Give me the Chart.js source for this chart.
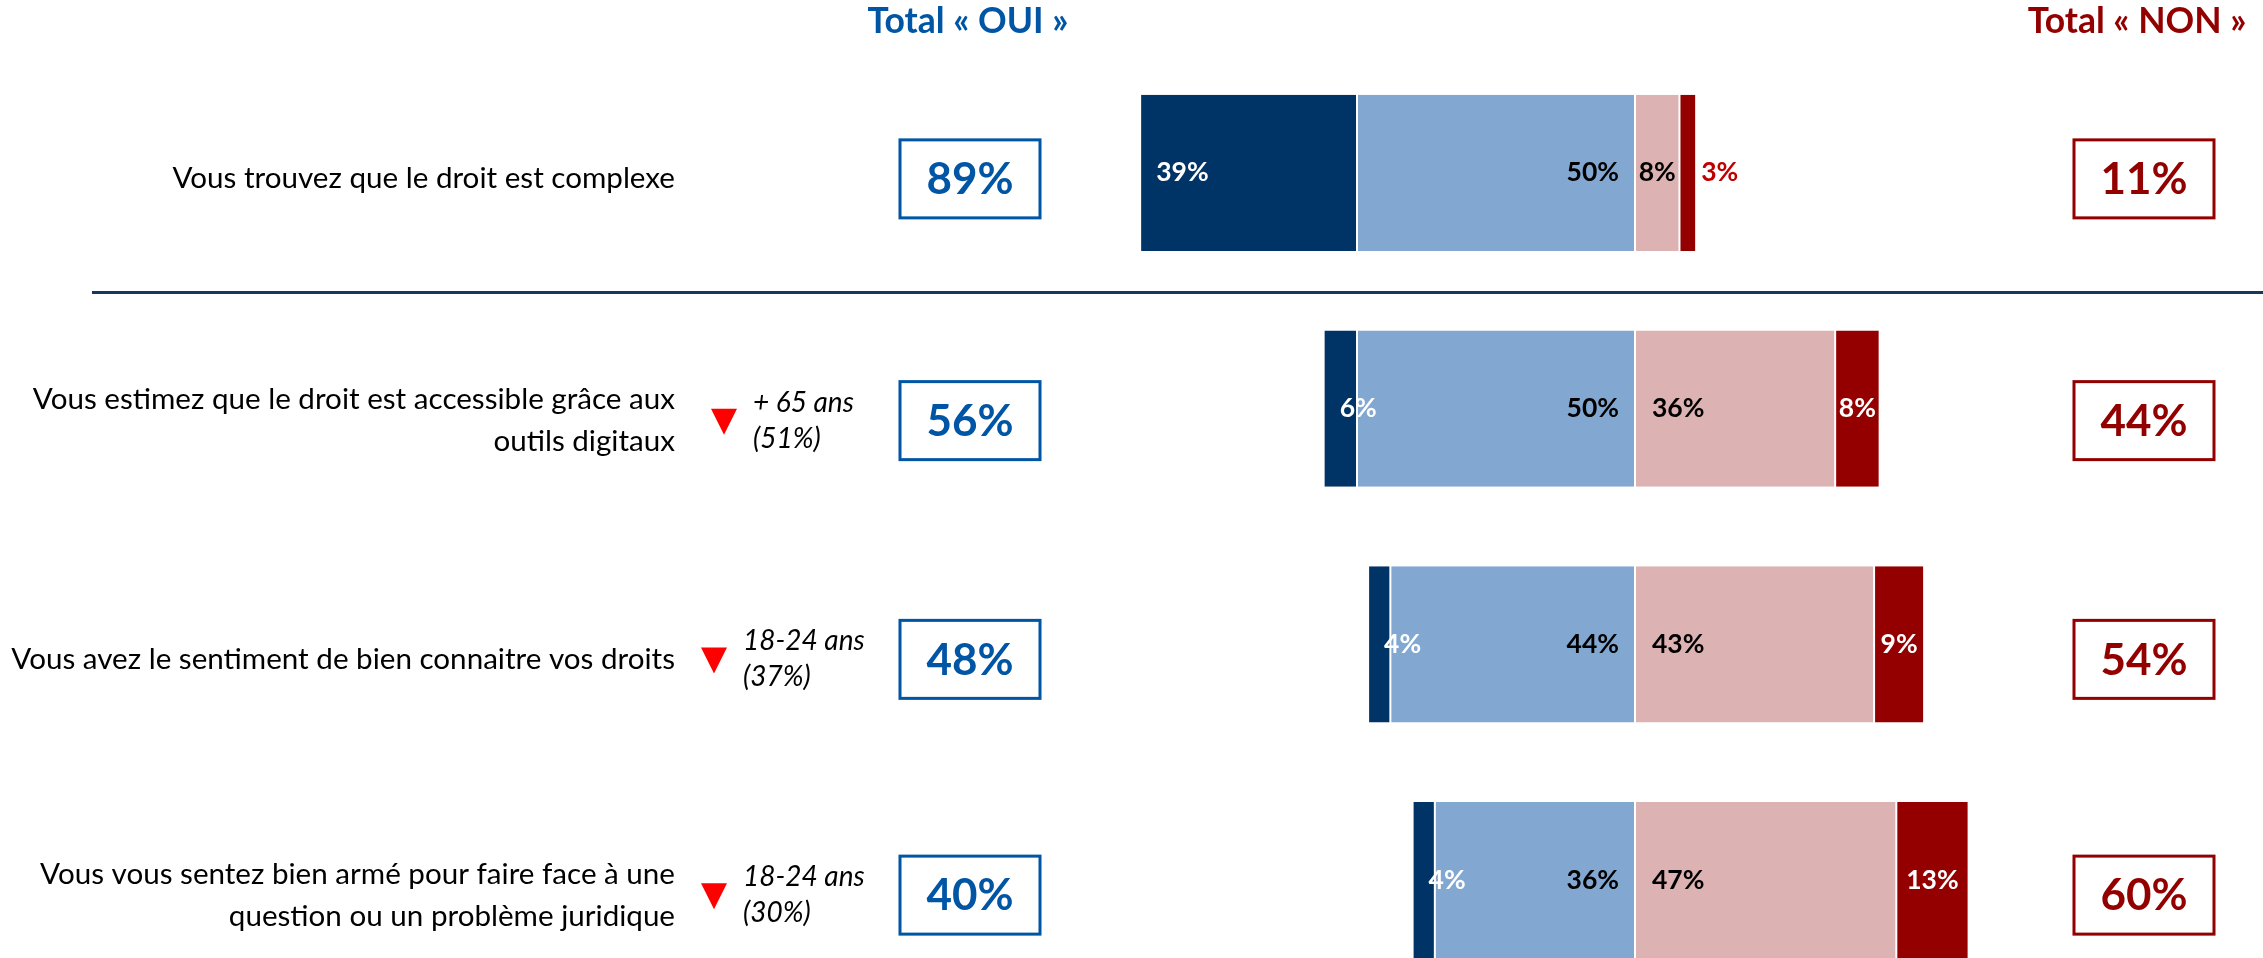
<!DOCTYPE html>
<html>
<head>
<meta charset="utf-8">
<script src="https://cdn.jsdelivr.net/npm/chart.js@4"></script>
<style>
  html, body { margin: 0; padding: 0; background: #fff; overflow: hidden; }
  #wrap { position: relative; width: 2263px; height: 1000px; }
</style>
</head>
<body>
<div id="wrap"><canvas id="chart"></canvas></div>
<script>
// questions (one entry per row, split into display lines)
const questions = [
  ['Vous trouvez que le droit est complexe'],
  ['Vous estimez que le droit est accessible grâce aux', 'outils digitaux'],
  ['Vous avez le sentiment de bien connaitre vos droits'],
  ['Vous vous sentez bien armé pour faire face à une', 'question ou un problème juridique']
];
// answer shares, %
const ouiToutAFait = [39, 6, 4, 4];
const ouiPlutot = [50, 50, 44, 36];
const nonPlutotPas = [8, 36, 43, 47];
const nonPasDuTout = [3, 8, 9, 13];
// totals shown in the boxes
const totalOui = [89, 56, 48, 40];
const totalNon = [11, 44, 54, 60];
// sub-group callouts (lower score)
const subGroup = [null, '+ 65 ans', '18-24 ans', '18-24 ans'];
const subGroupScore = [null, 51, 37, 30];

const FONT = 'Lato, "Open Sans", sans-serif';
const BLUE = '#0055A5';
const RED = '#930000';
// small layout nudges per row (px)
const rowOffset = [6, 12, 15, 15];
const calloutShift = [0, 10, 0, 0];

const barLabels = {
  id: 'barLabels',
  afterDatasetsDraw(chart) {
    const ctx = chart.ctx;
    ctx.save();
    ctx.font = `bold 26.5px ${FONT}`;
    ctx.textBaseline = 'middle';
    chart.data.datasets.forEach((ds, di) => {
      const meta = chart.getDatasetMeta(di);
      meta.data.forEach((bar, i) => {
        const txt = Math.abs(ds.data[i]) + '%';
        const left = Math.min(bar.x, bar.base);
        const right = Math.max(bar.x, bar.base);
        const w = ctx.measureText(txt).width;
        let x, align, color;
        if (ds.key === 'ouiTout') {
          x = left + 16; align = 'left'; color = '#fff';
        } else if (ds.key === 'ouiPlutot') {
          x = right - 16; align = 'right'; color = '#000';
        } else if (ds.key === 'nonPlutot') {
          if (right - left > w + 34) { x = left + 17; align = 'left'; }
          else { x = (left + right) / 2; align = 'center'; }
          color = '#000';
        } else {
          if (right - left > w + 6) { x = (left + right) / 2; align = 'center'; color = '#fff'; }
          else { x = right + 5; align = 'left'; color = '#C00000'; }
        }
        ctx.textAlign = align;
        ctx.fillStyle = color;
        ctx.fillText(txt, x, bar.y);
      });
    });
    ctx.restore();
  }
};

const sidePanel = {
  id: 'sidePanel',
  afterDraw(chart) {
    const ctx = chart.ctx;
    const yScale = chart.scales.y;
    ctx.save();
    ctx.textBaseline = 'middle';

    // column headers
    ctx.font = `bold 35.5px ${FONT}`;
    ctx.textAlign = 'center';
    ctx.fillStyle = BLUE;
    ctx.fillText('Total « OUI »', 968, 22);
    ctx.fillStyle = RED;
    ctx.fillText('Total « NON »', 2137, 22);

    // separator under the first question
    ctx.strokeStyle = '#17375E';
    ctx.lineWidth = 3;
    ctx.beginPath();
    ctx.moveTo(92, 292.5);
    ctx.lineTo(2263, 292.5);
    ctx.stroke();

    questions.forEach((lines, i) => {
      const yc = yScale.getPixelForValue(i) + rowOffset[i];

      // question text
      ctx.font = `29.6px ${FONT}`;
      ctx.fillStyle = '#000';
      ctx.textAlign = 'right';
      const gap = 42;
      lines.forEach((ln, k) => {
        ctx.fillText(ln, 675, yc + (k - (lines.length - 1) / 2) * gap);
      });

      // sub-group callout
      if (subGroup[i]) {
        const sx = calloutShift[i];
        ctx.fillStyle = '#FF0000';
        ctx.beginPath();
        ctx.moveTo(701 + sx, yc - 12);
        ctx.lineTo(727 + sx, yc - 12);
        ctx.lineTo(714 + sx, yc + 14);
        ctx.closePath();
        ctx.fill();
        ctx.font = `italic 28px ${FONT}`;
        ctx.fillStyle = '#000';
        ctx.textAlign = 'left';
        ctx.fillText(subGroup[i], 743 + sx, yc - 18);
        ctx.fillText('(' + subGroupScore[i] + '%)', 743 + sx, yc + 18);
      }

      // total boxes
      ctx.lineWidth = 3;
      ctx.font = `bold 44px ${FONT}`;
      ctx.textAlign = 'center';
      [[totalOui[i], 900, BLUE], [totalNon[i], 2074, RED]].forEach(([v, bx, col]) => {
        ctx.strokeStyle = col;
        ctx.strokeRect(bx, yc - 39, 140, 78);
        ctx.fillStyle = col;
        ctx.fillText(v + '%', bx + 70, yc + 1);
      });
    });
    ctx.restore();
  }
};

const neg = a => a.map(v => -v);

new Chart(document.getElementById('chart'), {
  type: 'bar',
  data: {
    labels: questions.map(q => q.join(' ')),
    datasets: [
      { key: 'ouiPlutot', label: 'Oui, plutôt', data: neg(ouiPlutot), backgroundColor: '#82A8D2' },
      { key: 'ouiTout', label: 'Oui, tout à fait', data: neg(ouiToutAFait), backgroundColor: '#003366' },
      { key: 'nonPlutot', label: 'Non, plutôt pas', data: nonPlutotPas, backgroundColor: '#DDB2B3' },
      { key: 'nonPas', label: 'Non, pas du tout', data: nonPasDuTout, backgroundColor: '#940000' }
    ]
  },
  options: {
    indexAxis: 'y',
    responsive: true,
    maintainAspectRatio: false,
    animation: false,
    layout: { padding: { left: 1079, right: 72, top: 55, bottom: 2 } },
    datasets: {
      bar: {
        barPercentage: 0.662,
        categoryPercentage: 1,
        borderColor: '#fff',
        borderWidth: { left: 1, right: 1, top: 0, bottom: 0 },
        borderSkipped: false
      }
    },
    scales: {
      x: { stacked: true, min: -100, max: 100, display: false },
      y: { stacked: true, display: false }
    },
    plugins: { legend: { display: false }, tooltip: { enabled: false } }
  },
  plugins: [barLabels, sidePanel]
});
</script>
</body>
</html>
